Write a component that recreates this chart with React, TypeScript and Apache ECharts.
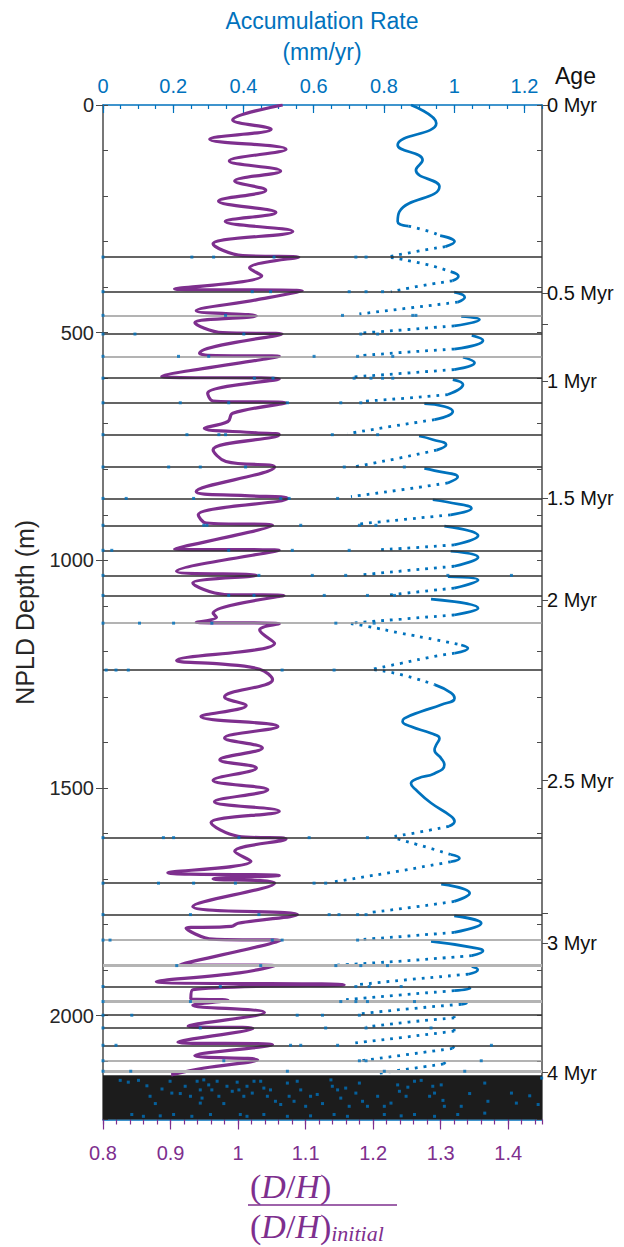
import React, { useEffect, useRef } from "react";
import * as echarts from "echarts";

const PURPLE = "#7E2F8E";
const BLUE = "#0072BD";
const INK = "#262626";

// axes
const depthMin = 0;
const depthMax = 2228;
const dhMin = 0.8;
const dhMax = 1.45;
const rateMin = 0;
const rateMax = 1.25;

// age axis (right)
const ageLabels = ["0 Myr", "0.5 Myr", "1 Myr", "1.5 Myr", "2 Myr", "2.5 Myr", "3 Myr", "4 Myr"];
const ageDepths = [0, 413, 606, 863, 1087, 1484, 1840, 2125];
const extraAgeTickDepths = [481, 1774];

// horizontal hiatus lines (depth, m)
const hiatusBlack = [334, 410, 503, 600, 654, 724, 795, 864, 923, 978, 1033, 1077, 1241, 1609, 1709, 1778, 1936, 1999, 2027, 2065];
const hiatusGray = [462, 552, 1138, 1834, 2099];
const hiatusGrayThick = [1890, 1969, 2122];
const bandTop = 2131;

// D/H ratio profile [value, depth]
const dhProfile = [
  [1.066, 0], [0.992, 33], [1.049, 53], [0.958, 75], [1.071, 97], [0.987, 123], [1.063, 145], [0.995, 167],
  [1.041, 187], [0.971, 211], [1.056, 236], [0.981, 256], [1.081, 278], [0.963, 305], [1.007, 331], [1.09, 334],
  [1.017, 358], [1.035, 375], [0.906, 404], [1.095, 408], [1.027, 428], [0.938, 452], [1.027, 463], [0.936, 478],
  [0.977, 500], [1.065, 503], [0.943, 545], [0.955, 550], [1.061, 552], [0.887, 596], [1.061, 602], [0.955, 633],
  [0.963, 650], [1.071, 654], [0.992, 677], [0.985, 695], [0.95, 710], [1.027, 720], [1.061, 724], [0.963, 757],
  [0.982, 783], [1.054, 795], [0.938, 849], [1.01, 858], [1.073, 864], [0.941, 900], [0.953, 918], [1.051, 923],
  [0.906, 975], [1.061, 978], [0.909, 1024], [1.027, 1033], [0.933, 1050], [0.98, 1075], [1.068, 1077], [0.963, 1116],
  [0.968, 1125], [0.938, 1136], [1.061, 1139], [1.032, 1153], [1.054, 1182], [0.909, 1220], [0.968, 1227], [1.032, 1239],
  [1.051, 1262], [0.98, 1300], [1.012, 1319], [0.945, 1343], [1.059, 1365], [0.98, 1390], [1.036, 1412], [0.973, 1438],
  [1.027, 1456], [0.963, 1483], [1.044, 1504], [0.965, 1530], [1.061, 1551], [0.96, 1576], [1.0, 1606], [1.071, 1612],
  [0.995, 1639], [1.019, 1661], [0.896, 1686], [1.061, 1692], [0.963, 1700], [1.054, 1709], [0.933, 1760], [1.088, 1778],
  [1.0, 1797], [0.99, 1804], [0.923, 1808], [0.963, 1832], [1.063, 1835], [0.914, 1888], [1.056, 1890], [1.002, 1906],
  [0.879, 1925], [1.157, 1932], [0.933, 1943], [0.93, 1963], [0.985, 1966], [0.933, 1977], [1.039, 1993], [0.926, 2023],
  [1.022, 2028], [0.911, 2058], [1.051, 2064], [0.936, 2088], [1.029, 2097], [0.95, 2115], [0.901, 2130],
];

// accumulation rate [mm/yr, depth] — dense (solid-looking) parts
const rateSolid = [
  [[0.877, 0], [0.949, 40], [0.839, 88], [0.91, 121], [0.891, 143], [0.958, 179], [0.844, 234], [0.839, 256], [0.87, 266]],
  [[0.96, 287], [1.001, 300], [0.975, 311]],
  [[0.99, 366], [1.012, 376], [0.995, 386]],
  [[1.0, 411], [1.03, 422], [1.01, 433]],
  [[1.02, 464], [1.072, 471], [1.0, 485]],
  [[1.05, 506], [1.082, 517], [1.0, 536]],
  [[1.025, 554], [1.058, 566], [1.0, 581]],
  [[0.996, 603], [1.025, 614], [0.982, 636]],
  [[0.915, 656], [0.972, 662], [0.996, 673], [0.944, 691]],
  [[0.9, 727], [0.94, 735], [0.977, 746], [0.95, 758]],
  [[0.915, 798], [0.944, 803], [1.01, 817], [0.982, 830]],
  [[0.939, 867], [0.98, 872], [1.049, 886], [0.99, 900]],
  [[0.972, 925], [1.068, 946], [1.0, 966]],
  [[0.99, 980], [1.068, 993], [1.0, 1013]],
  [[0.982, 1036], [1.068, 1043], [1.0, 1061]],
  [[0.934, 1085], [1.068, 1105], [1.0, 1120]],
  [[1.02, 1186], [1.039, 1193], [1.001, 1204]],
  [[0.944, 1273], [0.991, 1291], [1.001, 1303], [0.963, 1317], [0.906, 1332], [0.858, 1347], [0.853, 1354], [0.877, 1365],
   [0.934, 1380], [0.958, 1391], [0.949, 1405], [0.944, 1416], [0.963, 1435], [0.972, 1449], [0.944, 1468], [0.896, 1479],
   [0.877, 1490], [0.891, 1504], [0.934, 1533], [0.991, 1562], [1.001, 1573], [0.985, 1584]],
  [[0.99, 1646], [1.015, 1654], [0.99, 1662]],
  [[0.963, 1711], [1.044, 1731], [1.0, 1749]],
  [[1.0, 1781], [1.077, 1797], [1.0, 1817]],
  [[0.934, 1837], [1.05, 1850], [1.082, 1858], [1.05, 1868]],
  [[1.05, 1892], [1.067, 1899], [1.04, 1909]],
  [[1.04, 1937], [1.045, 1940], [1.0, 1945]],
  [[1.03, 1970], [1.035, 1972], [1.02, 1975]],
  [[1.0, 2001], [1.0, 2005]],
  [[1.0, 2029], [1.0, 2034]],
  [[1.0, 2067], [0.995, 2072]],
  [[0.975, 2102], [0.97, 2106]],
];

// accumulation rate — sparse (dotted) transitions
const rateDotted = [
  [[0.87, 266], [0.93, 278], [0.96, 287]],
  [[0.975, 311], [0.89, 322], [0.81, 334]],
  [[0.82, 335], [0.92, 350], [0.99, 366]],
  [[0.995, 386], [0.9, 398], [0.82, 410]],
  [[1.01, 433], [0.87, 446], [0.73, 459]],
  [[1.0, 485], [0.87, 493], [0.734, 501]],
  [[1.0, 536], [0.86, 543], [0.725, 551]],
  [[1.0, 581], [0.86, 589], [0.715, 597]],
  [[0.982, 636], [0.86, 644], [0.734, 651]],
  [[0.944, 691], [0.82, 706], [0.696, 722]],
  [[0.95, 758], [0.84, 776], [0.72, 794]],
  [[0.982, 830], [0.85, 845], [0.706, 860]],
  [[0.99, 900], [0.86, 910], [0.73, 920]],
  [[1.0, 966], [0.89, 972], [0.782, 977]],
  [[1.0, 1013], [0.87, 1022], [0.734, 1032]],
  [[1.0, 1061], [0.9, 1069], [0.806, 1077]],
  [[1.0, 1120], [0.85, 1129], [0.706, 1138]],
  [[0.706, 1139], [0.753, 1145], [0.849, 1160], [0.944, 1174], [1.02, 1186]],
  [[1.001, 1204], [0.944, 1211], [0.849, 1226], [0.768, 1239]],
  [[0.772, 1240], [0.849, 1251], [0.944, 1273]],
  [[0.985, 1584], [0.9, 1597], [0.83, 1606]],
  [[0.839, 1612], [0.93, 1632], [0.99, 1646]],
  [[0.99, 1662], [0.83, 1684], [0.658, 1706]],
  [[1.0, 1749], [0.88, 1762], [0.753, 1774]],
  [[1.0, 1817], [0.87, 1825], [0.73, 1833]],
  [[1.05, 1868], [0.87, 1879], [0.663, 1889]],
  [[1.04, 1909], [0.88, 1920], [0.725, 1932]],
  [[1.0, 1945], [0.84, 1955], [0.677, 1966]],
  [[1.02, 1975], [0.87, 1985], [0.73, 1996]],
  [[1.0, 2005], [0.87, 2014], [0.749, 2025]],
  [[1.0, 2034], [0.85, 2048], [0.706, 2061]],
  [[0.995, 2072], [0.86, 2086], [0.725, 2100]],
  [[0.97, 2106], [0.88, 2116], [0.782, 2127]],
];

// isolated rate points lying on the hiatus lines [mm/yr, depth]
const hiatusPoints = [
  [0, 334], [0.253, 334], [0.315, 334], [0.487, 334], [0.72, 334], [0.749, 334],
  [0, 410], [0.425, 410], [0.477, 410], [0.701, 410], [0.749, 410], [0.796, 410],
  [0, 462], [0.349, 462], [0.682, 462], [0.882, 462], [0.891, 462],
  [0, 503], [0.091, 503], [0.401, 503], [0.734, 503], [0.782, 503],
  [0, 552], [0.215, 552], [0.301, 552], [0.601, 552], [0.725, 552], [0.825, 552],
  [0, 600], [0.431, 600], [0.484, 600], [0.715, 600], [0.763, 600], [0.796, 600], [0.825, 600],
  [0, 654], [0.22, 654], [0.358, 654], [0.525, 654], [0.677, 654], [0.734, 654],
  [0, 724], [0.239, 724], [0.33, 724], [0.349, 724], [0.653, 724], [0.782, 724],
  [0, 795], [0.187, 795], [0.277, 795], [0.406, 795], [0.687, 795], [0.858, 795],
  [0, 864], [0.066, 864], [0.258, 864], [0.506, 864], [0.53, 864], [0.668, 864],
  [0, 923], [0.287, 923], [0.296, 923], [0.563, 923], [0.73, 923], [0.777, 923],
  [0, 978], [0.025, 978], [0.358, 978], [0.539, 978], [0.701, 978],
  [0, 1033], [0.444, 1033], [0.596, 1033], [0.691, 1033], [0.982, 1033], [1.163, 1033],
  [0, 1077], [0.358, 1077], [0.43, 1077], [0.63, 1077], [0.753, 1077], [0.83, 1077],
  [0, 1138], [0.104, 1138], [0.201, 1138], [0.31, 1138], [0.663, 1138], [0.772, 1138],
  [0.009, 1241], [0.037, 1241], [0.072, 1241], [0.51, 1241], [0.658, 1241],
  [0, 1609], [0.172, 1609], [0.201, 1609], [0.387, 1609], [0.587, 1609], [0.753, 1609],
  [0, 1709], [0.158, 1709], [0.258, 1709], [0.377, 1709], [0.601, 1709], [0.634, 1709],
  [0, 1778], [0.249, 1778], [0.444, 1778], [0.644, 1778], [0.672, 1778], [0.725, 1778], [0.749, 1778],
  [0, 1834], [0.02, 1834], [0.482, 1834], [0.51, 1834], [0.725, 1834],
  [0.21, 1890], [0.449, 1890], [0.663, 1890], [0.734, 1890], [0.81, 1890],
  [0, 1936], [0.334, 1936], [0.72, 1936], [0.758, 1936], [0.849, 1936],
  [0, 1969], [0.249, 1969], [0.677, 1969], [0.72, 1969], [0.753, 1969], [0.887, 1969],
  [0, 1999], [0.082, 1999], [0.553, 1999], [0.625, 1999], [0.73, 1999],
  [0, 2027], [0.277, 2027], [0.634, 2027], [0.749, 2027], [0.934, 2027],
  [0, 2065], [0.037, 2065], [0.534, 2065], [0.563, 2065], [0.668, 2065], [1.106, 2065],
  [0, 2099], [0.344, 2099], [0.73, 2099], [0.749, 2099], [1.077, 2099],
  [0, 2122], [0.079, 2122], [0.525, 2122], [0.801, 2122], [1.03, 2122],
];

// rate points inside the basal unit [mm/yr, depth]
const basalPoints = [
  [0.049, 2142], [0.072, 2146], [0.101, 2142], [0.125, 2154], [0.134, 2177], [0.149, 2193], [0.168, 2161], [0.191, 2144],
  [0.196, 2170], [0.22, 2171], [0.234, 2155], [0.249, 2177], [0.268, 2144], [0.277, 2163], [0.282, 2181], [0.277, 2192],
  [0.287, 2141], [0.301, 2152], [0.31, 2163], [0.325, 2144], [0.33, 2177], [0.344, 2193], [0.353, 2155], [0.368, 2166],
  [0.382, 2146], [0.387, 2163], [0.401, 2177], [0.41, 2155], [0.425, 2170], [0.43, 2144], [0.449, 2144], [0.458, 2159],
  [0.468, 2177], [0.477, 2163], [0.491, 2188], [0.506, 2195], [0.525, 2148], [0.53, 2177], [0.544, 2188], [0.553, 2144],
  [0.563, 2163], [0.577, 2199], [0.591, 2177], [0.61, 2173], [0.625, 2193], [0.649, 2141], [0.653, 2155], [0.668, 2163],
  [0.677, 2181], [0.691, 2159], [0.701, 2199], [0.72, 2170], [0.73, 2148], [0.739, 2188], [0.753, 2199], [0.782, 2177],
  [0.801, 2199], [0.82, 2192], [0.839, 2152], [0.844, 2166], [0.863, 2177], [0.868, 2157], [0.887, 2144], [0.906, 2142],
  [0.93, 2177], [0.939, 2155], [0.944, 2170], [0.963, 2152], [0.968, 2186], [0.972, 2199], [1.02, 2199], [1.044, 2171],
  [1.087, 2148], [1.096, 2188], [1.163, 2170], [1.177, 2192], [1.215, 2176], [1.239, 2195], [1.249, 2137],
  [0.082, 2217], [0.115, 2221], [0.163, 2220], [0.201, 2217], [0.253, 2221], [0.306, 2217], [0.391, 2217], [0.41, 2221],
  [0.458, 2217], [0.525, 2221], [0.591, 2220], [0.658, 2217], [0.696, 2221], [0.801, 2217], [0.849, 2220], [0.887, 2217],
  [0.944, 2221], [1.01, 2217], [1.087, 2214],
];

const FONT = "'Liberation Sans', Arial, Helvetica, sans-serif";
const MATH = "'Liberation Serif', 'Times New Roman', serif";

export default function App() {
  const ref = useRef<HTMLDivElement>(null);

  useEffect(() => {
    document.body.style.margin = "0";
    if (!ref.current) return;
    const chart = echarts.init(ref.current, null, { renderer: "svg" });

    const hideAll = {
      axisLine: { show: false, onZero: false },
      axisLabel: { show: false },
      splitLine: { show: false },
    };

    const markLineData = [
      ...hiatusBlack.map((d) => ({ yAxis: d, lineStyle: { color: "#303030", width: 1.6, type: "solid" } })),
      ...hiatusGray.map((d) => ({ yAxis: d, lineStyle: { color: "#9a9a9a", width: 1.6, type: "solid" } })),
      ...hiatusGrayThick.map((d) => ({ yAxis: d, lineStyle: { color: "#b4b4b4", width: 3, type: "solid" } })),
    ];

    const solidSeries = rateSolid.map((seg) => ({
      type: "line",
      xAxisIndex: 1,
      yAxisIndex: 0,
      data: seg,
      smooth: 0.5,
      symbol: "none",
      z: 4,
      lineStyle: { color: BLUE, width: 2.7 },
    }));
    const dottedSeries = rateDotted.map((seg) => ({
      type: "line",
      xAxisIndex: 1,
      yAxisIndex: 0,
      data: seg,
      smooth: 0.5,
      symbol: "none",
      z: 4,
      lineStyle: { color: BLUE, width: 2.8, type: [2.8, 6] },
    }));

    const option: any = {
      animation: false,
      textStyle: { fontFamily: FONT },
      grid: { left: 103, right: 82, top: 105, bottom: 127.5, containLabel: false },
      xAxis: [
        {
          type: "value",
          position: "bottom",
          min: dhMin,
          max: dhMax,
          interval: 0.1,
          axisLine: { show: true, onZero: false, lineStyle: { color: BLUE, width: 1.5 } },
          axisTick: { show: true, inside: false, length: 10, lineStyle: { color: PURPLE, width: 1.2 } },
          axisLabel: { color: PURPLE, fontSize: 20, margin: 23, showMaxLabel: false },
          splitLine: { show: false },
        },
        {
          type: "value",
          position: "top",
          min: rateMin,
          max: rateMax,
          interval: 0.2,
          axisLine: { show: true, onZero: false, lineStyle: { color: BLUE, width: 1.5 } },
          axisTick: { show: true, inside: true, length: 8, lineStyle: { color: BLUE, width: 1.2 } },
          axisLabel: { color: BLUE, fontSize: 20, margin: 9, showMaxLabel: false },
          splitLine: { show: false },
        },
        {
          type: "value",
          position: "bottom",
          min: dhMin,
          max: dhMax,
          interval: 0.02,
          ...hideAll,
          axisTick: { show: true, inside: false, length: 5, lineStyle: { color: PURPLE, width: 1.2 } },
        },
        {
          type: "value",
          position: "top",
          min: rateMin,
          max: rateMax,
          interval: 0.05,
          ...hideAll,
          axisTick: { show: true, inside: true, length: 4, lineStyle: { color: BLUE, width: 1.2 } },
        },
      ],
      yAxis: [
        {
          type: "value",
          position: "left",
          inverse: true,
          min: depthMin,
          max: depthMax,
          interval: 500,
          axisLine: { show: true, onZero: false, lineStyle: { color: "#4a4a4a", width: 1.5 } },
          axisTick: { show: true, inside: false, length: 7, lineStyle: { color: "#4a4a4a" } },
          axisLabel: { color: INK, fontSize: 20, margin: 9, showMaxLabel: false, formatter: (v: number) => String(v) },
          splitLine: { show: false },
          name: "NPLD Depth (m)",
          nameLocation: "middle",
          nameRotate: 90,
          nameGap: 66,
          nameTextStyle: { color: INK, fontSize: 25 },
        },
        {
          type: "value",
          position: "left",
          inverse: true,
          min: depthMin,
          max: depthMax,
          interval: 100,
          ...hideAll,
          axisTick: { show: true, inside: true, length: 5, lineStyle: { color: "#4a4a4a" } },
        },
        {
          type: "value",
          position: "right",
          inverse: true,
          min: depthMin,
          max: depthMax,
          axisLine: { show: true, onZero: false, lineStyle: { color: "#4a4a4a", width: 1.5 } },
          axisTick: {
            show: true,
            inside: false,
            length: 6,
            customValues: [...ageDepths, ...extraAgeTickDepths],
            lineStyle: { color: "#4a4a4a" },
          },
          axisLabel: {
            color: "#111",
            fontSize: 20,
            margin: 5,
            customValues: ageDepths,
            formatter: (v: number) => {
              let best = 0;
              for (let i = 0; i < ageDepths.length; i++) {
                if (Math.abs(ageDepths[i] - v) < Math.abs(ageDepths[best] - v)) best = i;
              }
              return ageLabels[best];
            },
          },
          splitLine: { show: false },
        },
        {
          type: "value",
          position: "right",
          inverse: true,
          min: depthMin,
          max: depthMax,
          interval: 100,
          ...hideAll,
          axisTick: { show: true, inside: true, length: 5, lineStyle: { color: "#4a4a4a" } },
        },
      ],
      graphic: [
        {
          type: "text",
          x: 322,
          y: 21,
          style: { text: "Accumulation Rate", fill: BLUE, fontSize: 23, fontFamily: FONT, align: "center", verticalAlign: "middle" },
        },
        {
          type: "text",
          x: 322,
          y: 52,
          style: { text: "(mm/yr)", fill: BLUE, fontSize: 23, fontFamily: FONT, align: "center", verticalAlign: "middle" },
        },
        {
          type: "text",
          x: 555,
          y: 76,
          style: { text: "Age", fill: "#111", fontSize: 23, fontFamily: FONT, align: "left", verticalAlign: "middle" },
        },
        {
          type: "text",
          x: 250,
          y: 1186,
          style: {
            text: "{p|(}{i|D}{p|/}{i|H}{p|)}",
            fill: PURPLE,
            align: "left",
            verticalAlign: "middle",
            rich: {
              p: { fontFamily: MATH, fontSize: 34, fill: PURPLE },
              i: { fontFamily: MATH, fontSize: 34, fontStyle: "italic", fill: PURPLE },
            },
          },
        },
        {
          type: "line",
          shape: { x1: 248, y1: 1205, x2: 397, y2: 1205 },
          style: { stroke: PURPLE, lineWidth: 1.6 },
        },
        {
          type: "text",
          x: 250,
          y: 1226,
          style: {
            text: "{p|(}{i|D}{p|/}{i|H}{p|)}{s|initial}",
            fill: PURPLE,
            align: "left",
            verticalAlign: "middle",
            rich: {
              p: { fontFamily: MATH, fontSize: 34, fill: PURPLE, lineHeight: 36 },
              i: { fontFamily: MATH, fontSize: 34, fontStyle: "italic", fill: PURPLE, lineHeight: 36 },
              s: { fontFamily: MATH, fontSize: 22, fontStyle: "italic", fill: PURPLE, lineHeight: 36, verticalAlign: "bottom" },
            },
          },
        },
      ],
      series: [
        {
          type: "scatter",
          xAxisIndex: 0,
          yAxisIndex: 0,
          data: [[1.0, 0]],
          symbolSize: 0,
          silent: true,
          z: 1,
          markArea: {
            silent: true,
            itemStyle: { color: "#1c1c1c" },
            data: [[{ yAxis: bandTop }, { yAxis: depthMax }]],
          },
          markLine: {
            silent: true,
            symbol: ["none", "none"],
            label: { show: false },
            data: markLineData,
          },
        },
        {
          type: "line",
          xAxisIndex: 0,
          yAxisIndex: 0,
          data: dhProfile,
          smooth: 0.4,
          symbol: "none",
          z: 3,
          lineStyle: { color: PURPLE, width: 3.2 },
        },
        ...solidSeries,
        ...dottedSeries,
        {
          type: "scatter",
          xAxisIndex: 1,
          yAxisIndex: 0,
          data: hiatusPoints,
          symbol: "rect",
          symbolSize: 3,
          z: 5,
          itemStyle: { color: BLUE },
        },
        {
          type: "scatter",
          xAxisIndex: 1,
          yAxisIndex: 0,
          data: basalPoints,
          symbol: "rect",
          symbolSize: 3,
          z: 5,
          itemStyle: { color: BLUE },
        },
      ],
    };

    chart.setOption(option);
    return () => chart.dispose();
  }, []);

  return <div ref={ref} style={{ width: 624, height: 1247 }} />;
}
